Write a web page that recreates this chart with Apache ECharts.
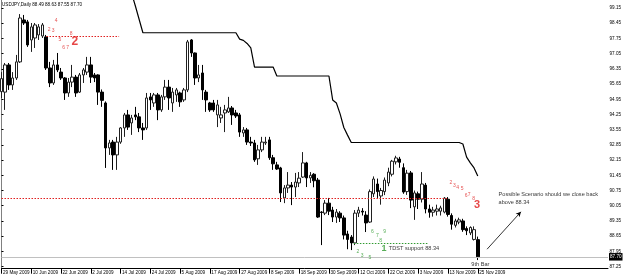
<!DOCTYPE html>
<html><head><meta charset="utf-8">
<script src="https://cdn.jsdelivr.net/npm/echarts@6/dist/echarts.min.js"></script>
<style>html,body{margin:0;padding:0;background:#fff}#c{width:625px;height:276px}</style>
</head><body><div id="c"></div>
<script>
const symbol = 'USDJPY';
const timeframe = 'Daily';
const startDate = '2009-05-29';
const emptyBarsRight = 35;

const opens = [95.30,95.28,96.53,95.61,95.93,96.67,98.60,98.51,97.68,97.77,97.91,97.86,97.82,96.39,95.70,96.53,96.20,95.93,95.24,95.74,
95.97,95.28,96.07,96.20,96.53,96.07,96.07,95.28,94.78,92.71,92.98,92.39,92.98,93.63,94.23,93.86,94.23,94.14,93.63,93.63,
95.06,94.78,95.15,94.46,95.06,95.51,94.78,95.15,95.24,94.92,95.38,97.68,97.08,95.93,96.16,95.28,94.78,94.78,94.23,94.09,
94.32,94.37,94.55,94.32,94.23,93.40,93.54,92.98,92.94,92.21,92.62,92.94,93.08,92.26,91.93,91.79,90.41,90.87,91.00,90.91,
91.10,91.37,92.02,91.33,91.50,91.23,89.76,89.71,90.17,89.85,89.53,89.71,89.49,88.75,88.61,88.34,89.71,89.80,89.62,89.30,
90.60,91.05,90.50,90.70,91.10,91.50,92.07,92.20,91.80,90.70,91.56,90.00,90.60,90.35,91.00,89.90,89.75,89.80,89.80,89.76,
90.35,89.60,89.15,89.30,89.35,89.00,88.80,88.50,88.49];
const closes = [95.90,96.53,95.61,95.93,96.67,98.69,98.46,97.45,98.28,98.37,98.28,98.37,96.39,95.70,96.53,96.30,95.93,95.24,95.74,95.97,
95.24,96.07,96.30,96.53,95.97,95.93,95.28,94.90,92.71,92.94,92.39,92.98,93.63,94.23,93.67,94.09,94.14,93.63,93.54,95.01,
94.92,95.15,94.46,95.06,95.51,95.01,95.28,95.38,94.83,95.38,97.59,97.08,95.93,96.07,95.38,94.92,94.46,94.46,94.69,94.23,
94.46,94.55,94.23,94.18,93.44,93.54,92.98,92.94,92.16,92.62,92.98,92.98,92.26,91.98,91.74,90.64,90.87,91.00,90.91,91.14,
91.32,92.02,91.33,91.45,91.20,89.53,89.74,90.17,89.80,89.53,89.76,89.49,88.70,88.50,88.34,89.71,89.85,89.76,89.26,90.70,
91.28,90.70,90.75,91.23,91.60,92.10,92.25,92.05,90.68,91.55,90.31,90.64,90.35,91.05,89.90,89.75,89.85,89.90,89.95,90.40,
89.65,89.20,89.35,89.40,88.95,88.90,89.05,88.95,87.70];
const lows = [95.00,94.46,95.38,95.38,95.84,96.62,98.37,97.36,97.13,97.31,97.68,97.77,96.30,95.51,95.61,96.20,95.84,94.92,95.06,95.51,
95.06,95.24,95.70,96.07,95.70,95.74,94.69,94.60,91.79,92.39,91.70,91.70,92.90,93.22,93.54,93.31,93.99,93.44,93.08,93.54,
94.46,94.60,93.99,94.37,94.92,94.46,94.37,94.83,94.60,94.83,95.28,96.90,95.61,95.74,94.92,94.37,94.37,94.37,93.67,93.86,
93.44,94.32,93.77,94.09,93.22,93.22,92.85,92.80,92.07,91.93,92.52,92.85,92.16,91.70,91.70,90.22,90.17,90.64,90.08,90.45,
90.91,91.33,90.91,91.10,90.90,89.49,88.24,89.62,89.62,89.30,89.26,89.30,88.50,88.05,88.01,88.24,89.53,89.60,88.84,89.26,
90.45,90.41,90.10,90.54,90.95,91.40,91.95,91.80,90.60,90.55,89.94,89.40,89.90,90.20,89.70,89.50,89.55,89.60,89.60,89.70,
89.55,88.95,89.05,89.20,88.85,88.70,88.70,88.45,87.55];
const highs = [96.20,96.62,96.62,96.20,96.99,98.87,98.83,98.60,98.46,98.46,98.41,98.46,97.91,96.67,96.76,97.08,96.39,95.97,95.93,96.53,
96.07,96.16,96.39,96.90,96.90,96.16,96.10,95.40,94.85,93.08,93.08,93.22,93.67,94.32,94.46,94.23,94.60,94.32,93.86,95.24,
95.24,95.24,95.24,95.15,95.84,95.84,95.47,95.47,95.30,95.47,97.68,97.72,97.10,96.53,96.53,95.38,94.83,94.92,94.92,94.60,
94.69,95.06,94.64,94.46,94.32,93.67,93.63,93.22,93.08,92.85,93.22,93.22,93.22,92.39,92.07,91.84,91.00,91.60,91.14,91.56,
91.60,92.52,92.07,91.60,91.55,91.33,89.80,90.31,90.41,90.00,89.90,89.80,89.60,88.90,88.70,89.85,90.00,89.94,89.80,90.80,
91.40,91.30,90.87,91.35,91.80,92.16,92.35,92.30,92.00,91.70,91.65,90.75,90.70,91.60,91.10,90.10,90.00,90.10,90.05,90.45,
90.45,89.70,89.45,89.50,89.45,89.10,89.10,89.10,88.63];

// black trailing line (one value per bar, null where above the chart)
const stopLine = [null,null,null,null,null,null,null,null,null,null,null,null,null,null,null,null,null,null,null,null,
null,null,null,null,null,null,null,null,null,null,null,null,null,null,null,99.81,99.23,98.62,98.01,98.01,
98.01,98.01,98.01,98.01,98.01,98.01,98.01,98.01,98.01,98.01,98.01,98.01,98.01,98.01,98.01,98.01,98.01,98.01,98.01,98.01,
98.01,98.01,98.01,98.01,97.72,97.66,97.52,97.31,96.43,96.43,96.43,96.43,96.43,96.43,96.02,96.02,96.02,96.02,96.02,96.02,
96.02,96.02,96.02,96.02,96.02,96.02,96.02,96.02,96.02,94.92,94.78,94.28,93.65,93.30,92.96,92.96,92.96,92.96,92.96,92.96,
92.96,92.96,92.96,92.96,92.96,92.96,92.96,92.96,92.96,92.96,92.96,92.96,92.96,92.96,92.96,92.96,92.96,92.96,92.96,92.96,
92.96,92.96,92.96,92.96,92.89,92.29,92.02,91.79,91.42];

const priceTicks = [87.25,87.95,88.65,89.35,90.05,90.75,91.45,92.15,92.85,93.55,94.25,94.95,95.65,96.35,97.05,97.75,98.45,99.15];
const yMin = 87.153, yMax = 99.518;
const bidPrice = 87.70;

// dotted levels: [fromBar, toBar, price]
const redLevelUpper = [12.1, 31.6, 97.86];
const redLevelLower = [0, 119.8, 90.39];
const greenLevel = [94.7, 114.8, 88.34];

// annotations: [bar, price, text]
const redCountsTop = [[12.8,98.17,'2'],[13.9,98.09,'3'],[14.7,98.57,'4'],[15.7,97.71,'5'],[16.7,97.34,'6'],[17.8,97.34,'7'],[18.7,97.99,'8']];
const redCountsRight = [[120.8,91.11,'2'],[121.7,90.96,'3'],[122.6,90.90,'4'],[123.8,90.85,'5'],[124.9,90.51,'6'],[125.7,90.54,'7'],[126.9,90.39,'8']];
const redBig = [[19.7,97.60,'2',12],[127.8,90.08,'3',11]];
const greenCounts = [[95.8,87.94,'2'],[96.9,87.76,'3'],[99.0,87.65,'5'],[99.7,88.85,'6'],[101.0,88.67,'7'],[101.9,88.45,'8'],[103.0,88.84,'9']];
const greenBig = [[102.8,88.09,'1']];
const blackNotes = [[104.1,88.09,'TDST support 88.34'],[133.6,90.55,'Possible Scenario should we close back'],[133.6,90.19,'above 88.34']];
const centerNotes = [[128.7,87.35,'9th Bar']];
const arrow = [[130.5,88.05],[139.6,89.77]];

const MONTHS=['Jan','Feb','Mar','Apr','May','Jun','Jul','Aug','Sep','Oct','Nov','Dec'];
function tradingDays(start, n){
  const out=[]; const d=new Date(start+'T00:00:00Z');
  while(out.length<n){
    const wd=d.getUTCDay();
    if(wd!==0&&wd!==6) out.push(d.getUTCDate()+' '+MONTHS[d.getUTCMonth()]+' '+d.getUTCFullYear());
    d.setUTCDate(d.getUTCDate()+1);
  }
  return out;
}
const nBars = opens.length;
const dates = tradingDays(startDate, nBars);
const cats = dates.slice();
for(let k=0;k<emptyBarsRight;k++) cats.push('pad'+k);
const lastIdx = cats.length-1;

const FONT = 'Liberation Sans';
const candleData = opens.map((o,i)=>[o, closes[i], lows[i], highs[i]]);

function levelLine(l, color){
  return [{coord:[l[0], l[2]], lineStyle:{color, type:[1.5,1.5], width:1}},{coord:[l[1], l[2]]}];
}
function textSeries(name, data, color, size, weight, pos){
  return {
    name, type:'scatter', xAxisIndex:1, yAxisIndex:0, symbolSize:0, silent:true,
    data: data.map(d=>({value:[d[0],d[1]], txt:d[2]})),
    label:{show:true, position:pos||'inside', distance:0, color, fontSize:size, fontWeight:weight||'normal', fontFamily:FONT,
      formatter:p=>p.data.txt},
    z:10
  };
}

const chart = echarts.init(document.getElementById('c'), null, {renderer:'canvas'});
const bigSeries = redBig.map((d,k)=>textSeries('big'+k,[d],'#e01818',d[3],'bold'));

chart.setOption({
  animation:false,
  backgroundColor:'#ffffff',
  title:{text: symbol+','+timeframe+' '+opens[nBars-1].toFixed(2)+' '+highs[nBars-1].toFixed(2)+' '+lows[nBars-1].toFixed(2)+' '+closes[nBars-1].toFixed(2),
    left:2, top:2, padding:0, textStyle:{fontSize:4.6, fontWeight:'normal', color:'#000', fontFamily:FONT}},
  grid:{left:0, right:17, top:0, bottom:7.3},
  xAxis:[{
    type:'category', data:cats, boundaryGap:false,
    axisLine:{show:true, lineStyle:{color:'#000', width:1}},
    axisTick:{show:true, length:5, interval:(i)=> i%8===0 && i<nBars, lineStyle:{color:'#000'}},
    axisLabel:{show:true, interval:(i)=> i%8===0 && i<nBars, align:'left', margin:2, padding:[0,0,0,1.5],
      fontSize:4.6, color:'#000', fontFamily:FONT, formatter:(v,i)=> i<nBars? v : ''},
    splitLine:{show:false}
  },{
    type:'value', min:0, max:lastIdx, show:false
  }],
  yAxis:{
    type:'value', position:'right', min:yMin, max:yMax, scale:true,
    axisLine:{show:true, lineStyle:{color:'#808080', width:1}},
    axisTick:{show:true, length:2, customValues:priceTicks, lineStyle:{color:'#000'}},
    axisLabel:{show:true, customValues:priceTicks, margin:1.5, fontSize:4.6, color:'#000', fontFamily:FONT, formatter:v=>v.toFixed(2)},
    splitLine:{show:false}
  },
  series:[
    {
      name:'price', type:'candlestick', data:candleData, barWidth:3,
      itemStyle:{color:'#ffffff', color0:'#000000', borderColor:'#202020', borderColor0:'#000000', borderWidth:1},
      z:3
    },
    {
      name:'trail', type:'line', data:stopLine, symbol:'none', connectNulls:false,
      lineStyle:{color:'#000', width:1.2}, z:4, silent:true
    },
    {
      name:'levels', type:'scatter', xAxisIndex:1, data:[], silent:true,
      markLine:{silent:true, symbol:['none','none'], label:{show:false}, animation:false,
        data:[
          levelLine(redLevelUpper,'#e02020'),
          levelLine(redLevelLower,'#e02020'),
          levelLine(greenLevel,'#2e9a2e'),
          [{coord:[0,bidPrice], lineStyle:{color:'#c0c0c0', type:'solid', width:1},
            label:{show:true, position:'end', distance:1, formatter:bidPrice.toFixed(2), backgroundColor:'#000', color:'#fff',
              fontSize:4.6, fontFamily:FONT, padding:[1.5,1,1,1]}},
           {coord:[lastIdx,bidPrice]}],
          [{coord:arrow[0], lineStyle:{color:'#000', type:'solid', width:0.8}, symbol:'none'},
           {coord:arrow[1], symbol:'arrow', symbolSize:[4,5]}]
        ]},
      z:2
    },
    textSeries('redTop', redCountsTop, '#e02828', 5),
    textSeries('redRight', redCountsRight, '#e02828', 5),
    ...bigSeries,
    textSeries('green', greenCounts, '#2e9a2e', 5),
    textSeries('greenBig', greenBig, '#2e9a2e', 9, 'bold'),
    textSeries('notes', blackNotes, '#000', 5.6, 'normal', 'right'),
    textSeries('center', centerNotes, '#000', 5.6)
  ]
});
</script></body></html>
